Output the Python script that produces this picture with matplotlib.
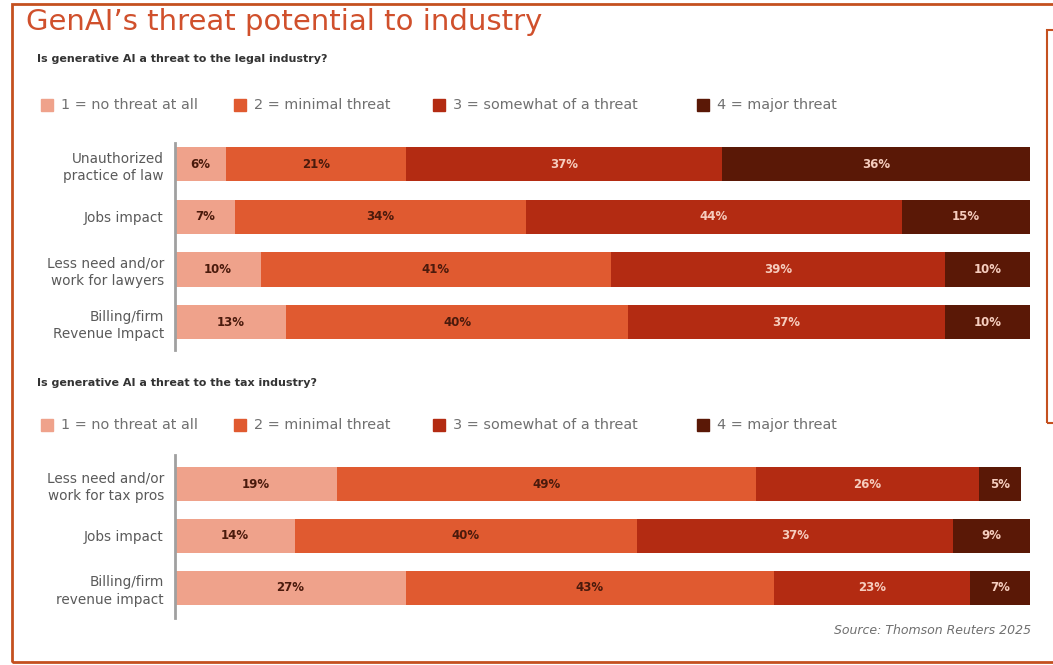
import matplotlib.pyplot as plt
import matplotlib.patches as mpatches
import numpy as np

plt.rcParams['font.family'] = ['DejaVu Sans']

levels = ['1 = no threat at all', '2 = minimal threat',
          '3 = somewhat of a threat', '4 = major threat']
colors = ['#EFA28B', '#E05A30', '#B32B12', '#5A1806']
text_colors = ['#4A1A0C', '#4A1A0C', '#F6CDBE', '#F6CDBE']

legal_cats = ['Unauthorized\npractice of law', 'Jobs impact',
              'Less need and/or\nwork for lawyers', 'Billing/firm\nRevenue Impact']
legal_vals = [[6, 21, 37, 36],
              [7, 34, 44, 15],
              [10, 41, 39, 10],
              [13, 40, 37, 10]]

tax_cats = ['Less need and/or\nwork for tax pros', 'Jobs impact',
            'Billing/firm\nrevenue impact']
tax_vals = [[19, 49, 26, 5],
            [14, 40, 37, 9],
            [27, 43, 23, 7]]

W, H = 1053, 665
fig = plt.figure(figsize=(W / 100, H / 100), dpi=100)
fig.patch.set_facecolor('white')


def px(x, y):
    # pixel position from the top-left corner -> figure fraction
    return x / W, 1 - y / H


def stacked(ax, cats, vals, ylim):
    vals = np.array(vals)
    y = np.arange(len(cats))
    left = np.zeros(len(cats))
    for j in range(vals.shape[1]):
        bars = ax.barh(y, vals[:, j], left=left, height=0.65,
                       color=colors[j], edgecolor='none')
        for rect, v in zip(bars, vals[:, j]):
            ax.text(rect.get_x() + rect.get_width() / 2, rect.get_y() + rect.get_height() / 2,
                    f'{v}%', ha='center', va='center', fontsize=8.5,
                    fontweight='bold', color=text_colors[j])
        left += vals[:, j]
    ax.set_xlim(0, 100)
    ax.set_ylim(*ylim)
    ax.set_yticks(y)
    ax.set_yticklabels(cats, fontsize=9.8, color='#5A5A5A', linespacing=1.3)
    ax.tick_params(axis='y', length=0, pad=8)
    ax.set_xticks([])
    for s in ['top', 'right', 'bottom']:
        ax.spines[s].set_visible(False)
    ax.spines['left'].set_color('#A0A0A0')
    ax.spines['left'].set_linewidth(2)


def legend_row(ypix):
    xs = [41, 234, 433, 697]
    for x, lab, c in zip(xs, levels, colors):
        fx, fy = px(x, ypix + 6)
        fig.patches.append(mpatches.Rectangle((fx, fy), 12 / W, 12 / H, color=c,
                                              transform=fig.transFigure))
        tx, ty = px(x + 20, ypix)
        fig.text(tx, ty, lab, fontsize=10.4, color='#707070', va='center')


# title and section headings
fig.text(*px(26, 22), 'GenAI\u2019s threat potential to industry', fontsize=21,
         color='#D0502C', va='center')
fig.text(*px(37, 59), 'Is generative AI a threat to the legal industry?', fontsize=8,
         fontweight='bold', color='#333333', va='center')
legend_row(105)
fig.text(*px(37, 383), 'Is generative AI a threat to the tax industry?', fontsize=8,
         fontweight='bold', color='#333333', va='center')
legend_row(425)

l, b = px(175, 350)
_, t = px(175, 143)
ax1 = fig.add_axes([l, b, 1030 / W - l, t - b])
stacked(ax1, legal_cats, legal_vals, (3.53, -0.4))

l, b = px(175, 618)
_, t = px(175, 455)
ax2 = fig.add_axes([l, b, 1030 / W - l, t - b])
stacked(ax2, tax_cats, tax_vals, (2.58, -0.56))

fig.text(*px(1031, 630), 'Source: Thomson Reuters 2025', fontsize=9, style='italic',
         color='#707070', ha='right', va='center')

# frame lines
border = '#C4501F'
x0, y0 = px(12, 662)
fig.patches.append(mpatches.Rectangle((x0, y0), 1.1 - x0, px(0, 4)[1] - y0, fill=False,
                                      edgecolor=border, linewidth=2,
                                      transform=fig.transFigure))
x0, y0 = px(1047, 423)
fig.patches.append(mpatches.Rectangle((x0, y0), 1.1 - x0, px(0, 30)[1] - y0, fill=False,
                                      edgecolor=border, linewidth=1.5,
                                      transform=fig.transFigure))

fig.savefig('out.png', dpi=100, facecolor='white')
